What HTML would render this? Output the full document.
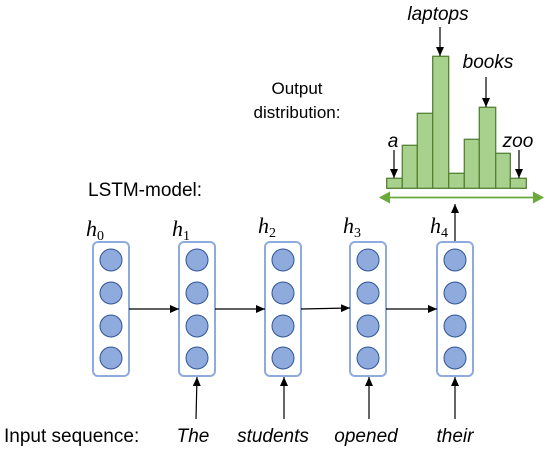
<!DOCTYPE html>
<html><head><style>
body{margin:0;background:#fff;}
svg{display:block;}
text{font-family:"Liberation Sans",sans-serif;fill:#000;}
.it{font-style:italic;font-size:19px;}
.lab{font-size:16px;}
.big{font-size:19px;}
.h{font-family:"Liberation Serif",serif;font-style:italic;font-size:22px;}
.sub{font-family:"Liberation Serif",serif;font-size:14px;font-style:normal;}
</style></head><body>
<svg width="560" height="450" viewBox="0 0 560 450">
<defs>
<marker id="a" markerWidth="10" markerHeight="10" refX="9" refY="5" orient="auto" markerUnits="userSpaceOnUse"><path d="M0,1 L9,5 L0,9 z" fill="#000"/></marker>
<marker id="g" markerWidth="12" markerHeight="12" refX="10" refY="6" orient="auto" markerUnits="userSpaceOnUse"><path d="M0,0 L11,6 L0,12 z" fill="#6aaa3c"/></marker>
</defs>
<g fill="#a9d18e" stroke="#548235" stroke-width="1.3">
<rect x="386.7" y="178.3" width="15.6" height="10"/>
<rect x="402.3" y="145.3" width="15" height="43"/>
<rect x="417.3" y="113.3" width="15.4" height="75"/>
<rect x="432.7" y="56.3" width="16" height="132"/>
<rect x="448.7" y="173.3" width="15.6" height="15"/>
<rect x="464.3" y="139.3" width="15" height="49"/>
<rect x="479.3" y="107.3" width="16.4" height="81"/>
<rect x="495.7" y="153.3" width="14.6" height="35"/>
<rect x="510.3" y="178.3" width="16" height="10"/>
</g>
<line x1="380" y1="197.5" x2="543" y2="197.5" stroke="#6aaa3c" stroke-width="1.5" marker-end="url(#g)"/>
<line x1="543" y1="197.5" x2="380" y2="197.5" stroke="#6aaa3c" stroke-width="1.5" marker-end="url(#g)"/>
<g stroke="#000" stroke-width="1.2">
<line x1="440" y1="27" x2="440" y2="56" marker-end="url(#a)"/>
<line x1="486" y1="77" x2="486" y2="107" marker-end="url(#a)"/>
<line x1="394" y1="150" x2="394" y2="178" marker-end="url(#a)"/>
<line x1="519" y1="150" x2="519" y2="178" marker-end="url(#a)"/>
<line x1="455" y1="241" x2="455" y2="204" marker-end="url(#a)"/>
</g>
<text class="it" x="438" y="20" text-anchor="middle">laptops</text>
<text class="it" x="488" y="68" text-anchor="middle">books</text>
<text class="it" x="393" y="147" text-anchor="middle">a</text>
<text class="it" x="518" y="147" text-anchor="middle">zoo</text>
<text class="lab" x="297" y="94" text-anchor="middle" style="font-size:17px">Output</text>
<text class="lab" x="297" y="118" text-anchor="middle" style="font-size:17px">distribution:</text>
<text class="big" x="88" y="196">LSTM-model:</text>
<g fill="none" stroke="#8faadc" stroke-width="2">
<rect x="93" y="242" width="36" height="134" rx="5"/>
<rect x="179" y="242" width="36" height="134" rx="5"/>
<rect x="265" y="242" width="36" height="134" rx="5"/>
<rect x="350" y="242" width="36" height="134" rx="5"/>
<rect x="437" y="242" width="36" height="134" rx="5"/>
</g>
<g fill="#8faadc" stroke="#2f5597" stroke-width="1">
<g id="c"><circle cx="111" cy="260" r="11"/><circle cx="111" cy="293" r="11"/><circle cx="111" cy="326" r="11"/><circle cx="111" cy="358" r="11"/></g>
<use href="#c" x="86"/><use href="#c" x="172"/><use href="#c" x="257"/><use href="#c" x="344"/>
</g>
<g stroke="#000" stroke-width="1.2">
<line x1="129" y1="309" x2="179" y2="309" marker-end="url(#a)"/>
<line x1="215" y1="309" x2="265" y2="309" marker-end="url(#a)"/>
<line x1="301" y1="309" x2="350" y2="308" marker-end="url(#a)"/>
<line x1="386" y1="309" x2="437" y2="309" marker-end="url(#a)"/>
<line x1="196" y1="419" x2="197" y2="377" marker-end="url(#a)"/>
<line x1="284" y1="419" x2="284" y2="377" marker-end="url(#a)"/>
<line x1="369" y1="419" x2="369" y2="377" marker-end="url(#a)"/>
<line x1="455" y1="419" x2="455" y2="377" marker-end="url(#a)"/>
</g>
<text class="h" x="86" y="236">h<tspan class="sub" dy="4">0</tspan></text>
<text class="h" x="172" y="236">h<tspan class="sub" dy="4">1</tspan></text>
<text class="h" x="258" y="233">h<tspan class="sub" dy="4">2</tspan></text>
<text class="h" x="343" y="233">h<tspan class="sub" dy="4">3</tspan></text>
<text class="h" x="430" y="233">h<tspan class="sub" dy="4">4</tspan></text>
<text class="big" x="4" y="442">Input sequence:</text>
<text class="it" x="193" y="442" text-anchor="middle">The</text>
<text class="it" x="273" y="442" text-anchor="middle">students</text>
<text class="it" x="366" y="442" text-anchor="middle">opened</text>
<text class="it" x="455" y="442" text-anchor="middle">their</text>
</svg>
</body></html>
